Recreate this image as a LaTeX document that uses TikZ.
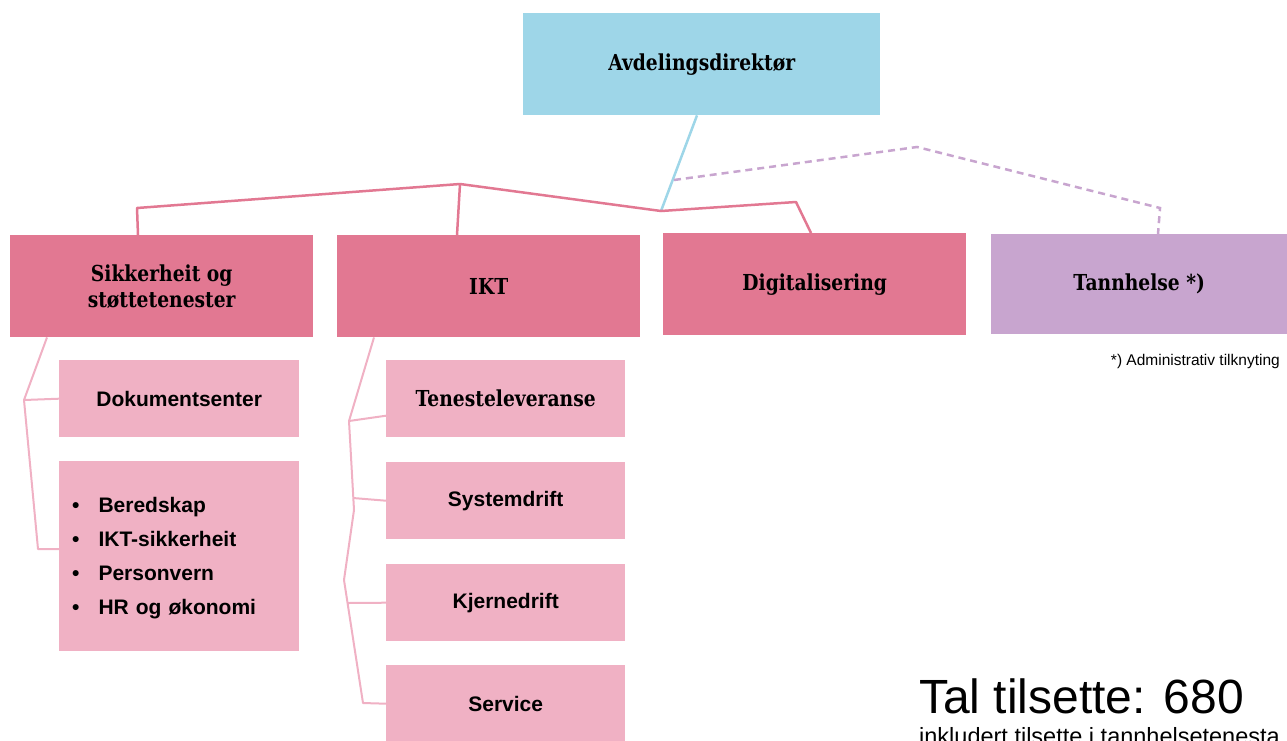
\documentclass[tikz,border=0pt]{standalone}
\usepackage{fontspec}
\setmainfont{Liberation Sans}
\newfontfamily\slabfont{DejaVu Serif}[FakeStretch=0.85]
\usetikzlibrary{positioning}
\definecolor{dirblaa}{HTML}{9ED6E8}
\definecolor{avdrosa}{HTML}{E27892}
\definecolor{lysrosa}{HTML}{F0B1C4}
\definecolor{tannlilla}{HTML}{C8A5CF}

\begin{document}
\begin{tikzpicture}[x=1pt,y=-1pt,
  boks/.style={anchor=north west,align=center},
  leiar/.style={boks,fill=dirblaa,minimum width=357pt,minimum height=102pt,font=\slabfont\bfseries\fontsize{22}{26}\selectfont},
  avd/.style={boks,fill=avdrosa,minimum width=303pt,minimum height=102pt,font=\slabfont\bfseries\fontsize{22}{26}\selectfont},
  eining/.style={boks,fill=lysrosa,minimum width=240pt,minimum height=77pt,font=\bfseries\fontsize{21}{25}\selectfont},
  hovudlinje/.style={avdrosa,line width=2.5pt,line join=round},
  underlinje/.style={lysrosa,line width=2pt,line join=round}]
\tikzstyle{every node}+=[inner sep=0pt]
\useasboundingbox (0,0) rectangle (1287,740);
\node[leiar] (dir) at (523,13) {Avdelingsdirektør};
\node[avd] (sik) at (10,235) {Sikkerheit og\\støttetenester};
\node[avd] (ikt) at (337,235) {IKT};
\node[avd] (dig) at (663,233) {Digitalisering};
\node[avd,fill=tannlilla,minimum width=296pt,minimum height=100pt] (tann) at (991,234) {Tannhelse *)};
\node[eining] (dok) at (59,360) {Dokumentsenter};
\node[eining,minimum height=190pt,text width=240pt,align=left,font=\bfseries\fontsize{21}{34}\selectfont] (oppg) at (59,461) {\begin{tabular}{@{\hspace{13pt}}l@{\hspace{19pt}}l@{}}
\textbullet & Beredskap\\
\textbullet & IKT-sikkerheit\\
\textbullet & Personvern\\
\textbullet & HR og økonomi
\end{tabular}};
\node[eining,minimum width=239pt,font=\slabfont\bfseries\fontsize{22}{25}\selectfont] (ten) at (386,360) {Tenesteleveranse};
\node[eining,minimum width=239pt] (sys) at (386,462) {Systemdrift};
\node[eining,minimum width=239pt] (kje) at (386,564) {Kjernedrift};
\node[eining,minimum width=239pt] (srv) at (386,665) {Service};
\coordinate (vinkelV) at (137,208);
\coordinate (toppen) at (460,184);
\coordinate (midtpunkt) at (661,211);
\coordinate (vinkelH) at (796,202);
\draw[dirblaa,line width=2.5pt] ([xshift=174pt]dir.south west) -- (midtpunkt);
\draw[hovudlinje] ([xshift=128pt]sik.north west) -- (vinkelV) -- (toppen) -- (midtpunkt) -- (vinkelH) -- ([xshift=148pt]dig.north west);
\draw[hovudlinje] (toppen) -- ([xshift=120pt]ikt.north west);
\coordinate (stiplstart) at (674,180);
\coordinate (stipltopp) at (917,147);
\coordinate (stiplhjorne) at (1160,208);
\draw[tannlilla,line width=2.5pt,dash pattern=on 7pt off 5pt] (stiplstart) -- (stipltopp) -- (stiplhjorne) -- ([xshift=167pt]tann.north west);
\coordinate (greinV) at (24,400);
\coordinate (botnV) at (38,549);
\draw[underlinje] ([xshift=37pt]sik.south west) -- (greinV) -- (dok.west);
\draw[underlinje] (greinV) -- (botnV) -- (botnV -| oppg.west);
\coordinate (ikt1) at (349,421);
\coordinate (ikt12) at (353,498);
\coordinate (ikt2) at (354,510);
\coordinate (ikt3) at (344,580);
\coordinate (ikt34) at (348,603);
\coordinate (ikt4) at (363,703);
\draw[underlinje] ([xshift=37pt]ikt.south west) -- (ikt1) -- (ikt2) -- (ikt3) -- (ikt4) -- (srv.west);
\draw[underlinje] (ikt1) -- ([yshift=-17pt]ten.west);
\draw[underlinje] (ikt12) -- (sys.west);
\draw[underlinje] (ikt34) -- (kje.west);
\node[anchor=base east,font=\fontsize{15.5}{18}\selectfont] (fotnote) at (1280,365) {*) Administrativ tilknyting};
\node[anchor=base west,font=\fontsize{48}{50}\selectfont] (tal) at (919,713) {Tal tilsette: 680};
\node[anchor=base west,font=\fontsize{23.5}{26}\selectfont] (inkl) at (919,744) {inkludert tilsette i tannhelsetenesta};
\end{tikzpicture}
\end{document}
